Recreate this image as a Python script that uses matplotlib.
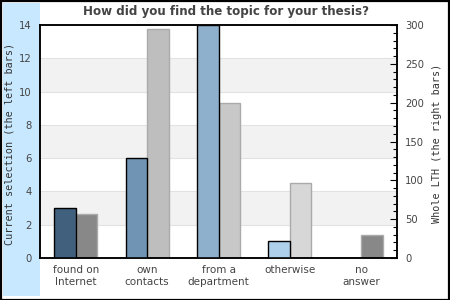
import matplotlib
matplotlib.use("Agg")
import matplotlib.pyplot as plt
from matplotlib.patches import Rectangle
import numpy as np

categories = ["found on\nInternet", "own\ncontacts", "from a\ndepartment", "otherwise", "no\nanswer"]
current_selection = [3, 6, 14, 1, 0]
whole_lth = [57, 295, 200, 97, 29]
left_colors = ["#40607e", "#7095b4", "#8fb0cc", "#afd0ea", "#afd0ea"]
right_colors = ["#888888", "#bebebe", "#c8c8c8", "#d7d7d7", "#888888"]

W, H = 450, 300
fig = plt.figure(figsize=(4.5, 3), dpi=100)
fig.patch.set_facecolor("white")

# light blue strip and outer border
fig.patches.append(Rectangle((3 / W, 1 - 296 / H), 37 / W, 293 / H, transform=fig.transFigure,
                             facecolor="#c8e8ff", edgecolor="none", zorder=-5))
fig.patches.append(Rectangle((0.5 / W, 0.5 / H), 1 - 1.5 / W, 1 - 1.5 / H, transform=fig.transFigure,
                             facecolor="none", edgecolor="black", linewidth=1.6, zorder=5))

ax = fig.add_axes([40 / W, 1 - 258 / H, 357 / W, 233 / H])
x = np.arange(len(categories))
ax.set_xlim(-0.5, len(categories) - 0.5)
ax.set_ylim(0, 14)

ax2 = ax.twinx()
ax2.set_ylim(0, 300)
# put left axes (with black-edged bars) on top
ax.set_zorder(2)
ax.patch.set_visible(False)
ax2.set_zorder(1)
ax2.patch.set_visible(True)
ax2.patch.set_facecolor("white")

band_tf = ax2.get_yaxis_transform().__class__  # unused placeholder
for lo in (2, 6, 10):
    ax2.axhspan(lo * 300 / 14, (lo + 2) * 300 / 14, color="#f2f2f2", zorder=0, linewidth=0)
for v in range(2, 14, 2):
    ax2.axhline(v * 300 / 14, color="#e2e2e2", linewidth=0.8, zorder=0.5)

ax2.bar(x + 0.15, whole_lth, width=0.3, color=right_colors, edgecolor="#aaaaaa", linewidth=1.0, zorder=2)
ax.bar(x - 0.15, current_selection, width=0.3, color=left_colors, edgecolor="black", linewidth=1.0, zorder=2)

ax.set_yticks(range(0, 15, 2))
ax.tick_params(axis="y", length=0, pad=6, labelsize=7.2, labelcolor="#444444")
ax.set_xticks(x)
ax.set_xticklabels(categories)
ax.tick_params(axis="x", length=0, pad=5, labelsize=7.5, labelcolor="#444444")
for a in (ax, ax2):
    for s in a.spines.values():
        s.set_linewidth(1.1)
        s.set_color("black")

ax2.set_yticks(range(0, 301, 50))
ax2.set_yticks(range(0, 301, 10), minor=True)
ax2.tick_params(axis="y", which="major", direction="in", length=5, width=0.8, pad=6, labelsize=7.2, labelcolor="#444444")
ax2.tick_params(axis="y", which="minor", direction="in", length=3, width=0.8)

fig.text(226 / W, 1 - 12 / H, "How did you find the topic for your thesis?", ha="center", va="center",
         fontsize=8.6, fontweight="bold", color="#444444")
fig.text(10 / W, 1 - 144 / H, "Current selection (the left bars)", rotation=90, ha="center", va="center",
         fontsize=7.3, family="DejaVu Sans Mono", color="#333333")
fig.text(437 / W, 1 - 143.5 / H, "Whole LTH (the right bars)", rotation=90, ha="center", va="center",
         fontsize=7.3, family="DejaVu Sans Mono", color="#333333")

fig.savefig("out.png", dpi=100)
